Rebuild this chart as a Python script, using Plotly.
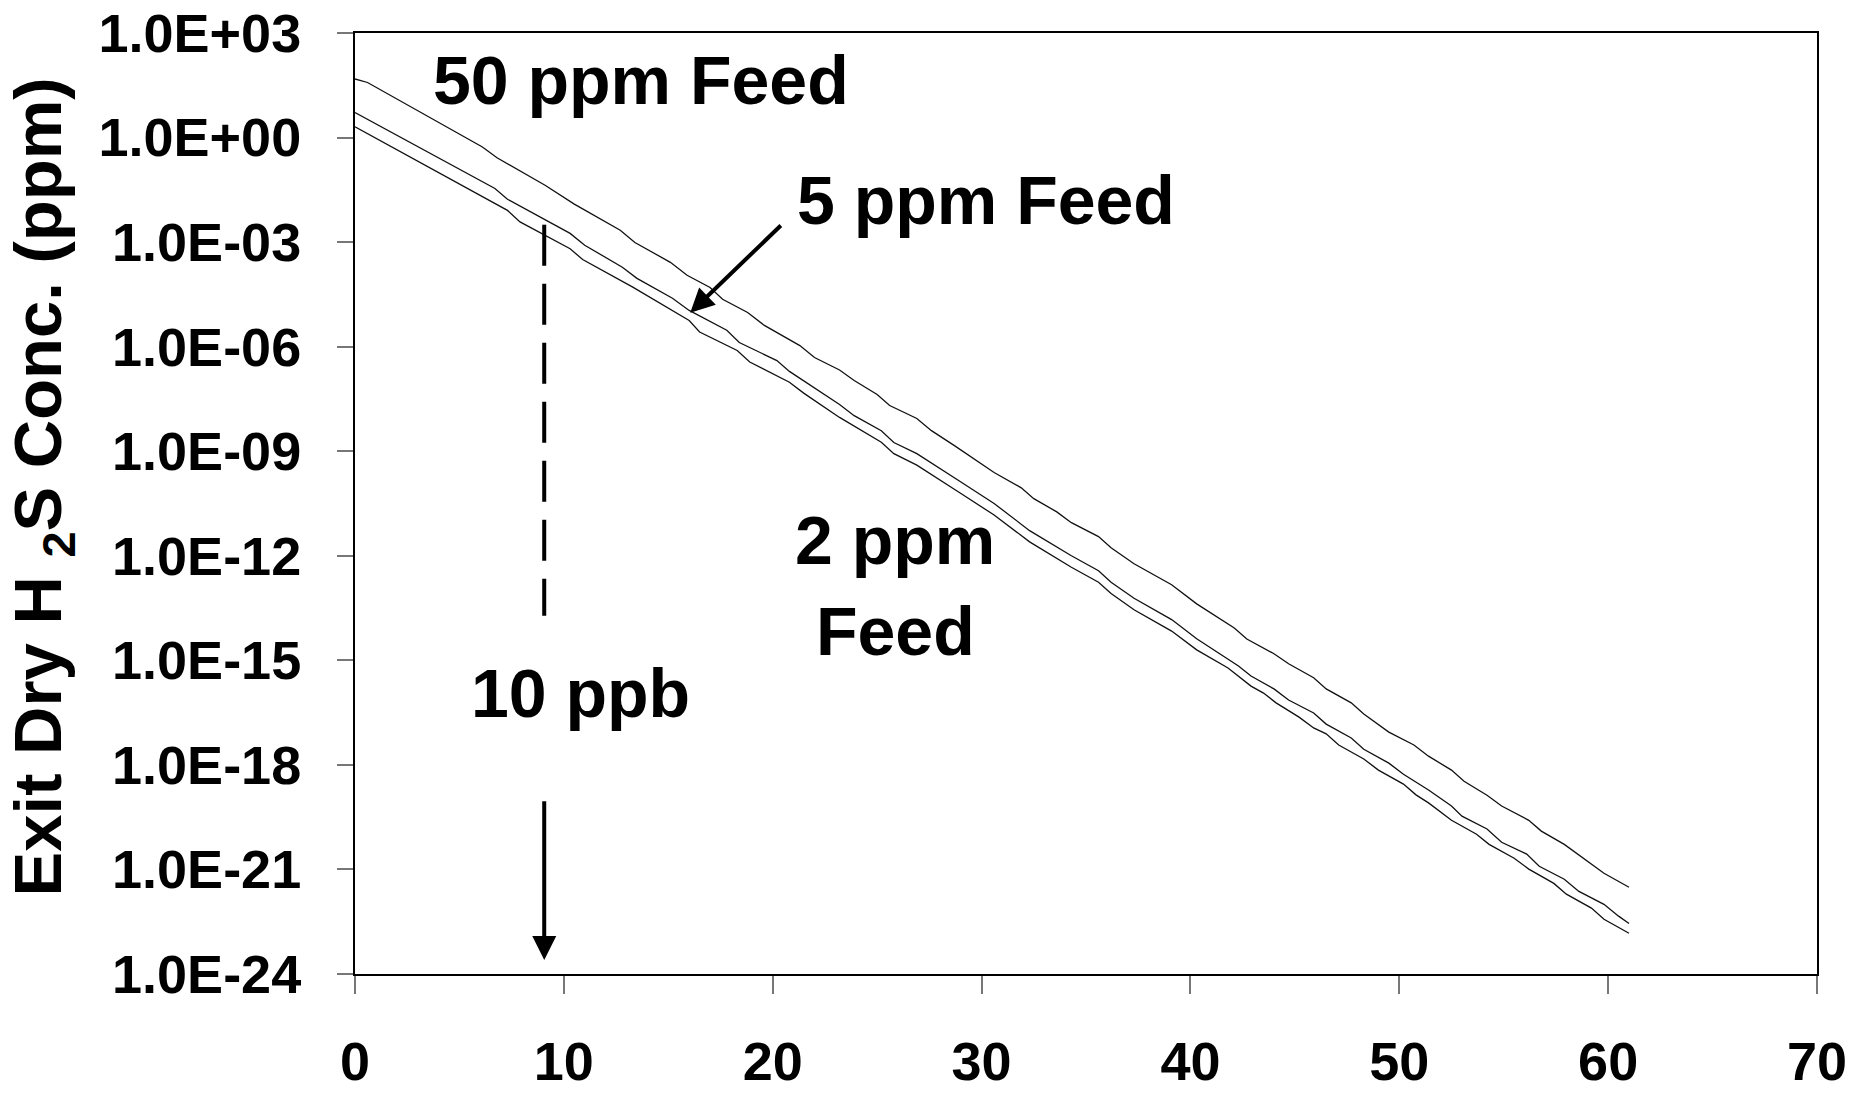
import plotly.graph_objects as go

# Exit H2S concentration (log10 ppm) versus bed position for three feed levels
x_50ppm = [0.0, 0.6, 6.1, 6.8, 9.1, 9.7, 10.5, 12.7, 13.4, 15.1, 15.9, 17.0, 17.6, 18.8,
           19.6, 21.3, 22.0, 23.2, 23.9, 25.0, 25.6, 26.9, 27.6, 28.7, 30.6, 31.9, 32.5,
           33.6, 34.3, 35.6, 36.2, 37.3, 39.1, 40.3, 42.1, 42.7, 44.0, 44.7, 45.9, 46.5,
           47.7, 48.3, 49.5, 50.7, 51.4, 52.5, 53.1, 54.2, 54.9, 56.2, 56.8, 57.9, 58.6,
           59.8, 61.0]
log_50ppm = [1.68, 1.58, -0.27, -0.58, -1.37, -1.61, -1.91, -2.66, -3.01, -3.58, -3.95,
             -4.30, -4.64, -5.02, -5.39, -5.97, -6.31, -6.67, -6.97, -7.37, -7.69, -8.06,
             -8.41, -8.84, -9.61, -10.05, -10.36, -10.74, -11.05, -11.45, -11.77, -12.23,
             -12.83, -13.38, -14.07, -14.39, -14.81, -15.10, -15.50, -15.82, -16.22,
             -16.54, -17.06, -17.43, -17.75, -18.15, -18.47, -18.87, -19.18, -19.59,
             -19.90, -20.28, -20.59, -21.11, -21.51]

x_5ppm = [0.0, 6.7, 7.3, 10.3, 11.0, 12.8, 13.5, 15.2, 16.0, 17.8, 18.4, 20.2, 20.8, 22.3,
          23.2, 23.9, 25.2, 25.8, 26.9, 28.9, 30.6, 32.3, 34.3, 35.6, 36.2, 37.3, 39.1,
          40.3, 42.3, 42.9, 44.0, 44.7, 45.9, 46.5, 47.7, 48.3, 49.5, 50.2, 51.4, 52.5,
          53.0, 54.2, 54.9, 56.1, 56.7, 57.9, 58.6, 59.8, 60.5, 61.0]
log_5ppm = [0.72, -1.46, -1.77, -2.75, -3.09, -3.72, -4.04, -4.61, -4.96, -5.53, -5.88,
            -6.40, -6.71, -7.30, -7.66, -7.98, -8.41, -8.75, -9.07, -9.84, -10.50, -11.28,
            -12.00, -12.43, -12.76, -13.22, -13.83, -14.38, -15.16, -15.45, -15.82, -16.14,
            -16.51, -16.83, -17.23, -17.55, -17.95, -18.27, -18.72, -19.18, -19.47, -19.84,
            -20.22, -20.56, -20.91, -21.28, -21.63, -22.00, -22.34, -22.55]

x_2ppm = [0.0, 7.3, 7.9, 10.3, 10.9, 13.3, 16.0, 16.5, 18.3, 18.9, 20.8, 21.5, 23.2, 25.2,
          25.8, 26.9, 28.9, 30.6, 32.3, 34.3, 35.6, 36.2, 37.3, 39.1, 40.3, 41.8, 42.9,
          43.5, 44.1, 45.2, 45.9, 46.5, 47.1, 48.3, 49.0, 50.2, 50.8, 51.4, 52.5, 53.7,
          54.3, 55.5, 56.2, 57.4, 58.0, 59.2, 59.8, 61.0]
log_2ppm = [0.31, -2.09, -2.42, -3.19, -3.50, -4.29, -5.25, -5.58, -6.11, -6.44, -7.02,
            -7.34, -8.03, -8.74, -9.07, -9.40, -10.17, -10.83, -11.60, -12.33, -12.76,
            -13.08, -13.55, -14.16, -14.70, -15.22, -15.74, -15.94, -16.22, -16.63, -16.94,
            -17.11, -17.43, -17.83, -18.15, -18.55, -18.86, -19.09, -19.59, -19.99, -20.28,
            -20.68, -20.99, -21.40, -21.71, -22.11, -22.43, -22.83]

# 10 ppb marker (dashed drop line, then arrow to the axis), in log10 ppm
ppb_x = 9.06
ppb_dash_log = [-2.5, -13.72]
ppb_arrow_log = [-19.0, -23.6]

# Pointer to the 5 ppm curve
feed5_tail = (20.46, -2.48)
feed5_tip = (16.05, -5.03)

y_tick_exp = [3, 0, -3, -6, -9, -12, -15, -18, -21, -24]
y_tick_text = ["1.0E+03", "1.0E+00", "1.0E-03", "1.0E-06", "1.0E-09", "1.0E-12",
               "1.0E-15", "1.0E-18", "1.0E-21", "1.0E-24"]
x_tick_vals = [0, 10, 20, 30, 40, 50, 60, 70]

FONT = "Liberation Sans, Arial, sans-serif"
LINE = "#111111"

fig = go.Figure()
for xs, logs in [(x_50ppm, log_50ppm), (x_5ppm, log_5ppm), (x_2ppm, log_2ppm)]:
    fig.add_trace(go.Scatter(
        x=xs, y=[10 ** v for v in logs], mode="lines",
        line=dict(color=LINE, width=1.3), showlegend=False, hoverinfo="skip"))

fig.add_trace(go.Scatter(
    x=[ppb_x, ppb_x], y=[10 ** v for v in ppb_dash_log], mode="lines",
    line=dict(color="black", width=4, dash="41px,18px"),
    showlegend=False, hoverinfo="skip"))

annotations = [
    dict(x=ppb_x, y=ppb_arrow_log[1], ax=ppb_x, ay=ppb_arrow_log[0],
         xref="x", yref="y", axref="x", ayref="y", text="", showarrow=True,
         arrowhead=2, arrowsize=1.2, arrowwidth=4, arrowcolor="black"),
    dict(x=feed5_tip[0], y=feed5_tip[1], ax=feed5_tail[0], ay=feed5_tail[1],
         xref="x", yref="y", axref="x", ayref="y", text="", showarrow=True,
         arrowhead=2, arrowsize=1.2, arrowwidth=4, arrowcolor="black"),
    dict(x=13.7, y=1.65, text="50 ppm Feed"),
    dict(x=30.19, y=-1.78, text="5 ppm Feed"),
    dict(x=25.87, y=-11.56, text="2 ppm"),
    dict(x=25.87, y=-14.17, text="Feed"),
    dict(x=10.78, y=-15.95, text="10 ppb"),
]
for a in annotations[2:]:
    a.update(xref="x", yref="y", showarrow=False, xanchor="center", yanchor="middle",
             font=dict(family=FONT, size=68, color="black", weight="bold"))

annotations.append(dict(
    x=-0.2135, y=0.518, xref="paper", yref="paper", showarrow=False,
    text="Exit Dry H <sub>2</sub>S Conc. (ppm)", textangle=-90,
    xanchor="center", yanchor="middle", borderpad=0,
    font=dict(family=FONT, size=67, color="black", weight="bold")))

fig.update_layout(
    width=1850, height=1094,
    margin=dict(l=355, r=33, t=33, b=120),
    paper_bgcolor="white", plot_bgcolor="white",
    annotations=annotations,
    xaxis=dict(
        range=[0, 70], tickvals=x_tick_vals, ticks="outside", ticklen=18,
        tickwidth=1.5, tickcolor="#777777", showgrid=False, zeroline=False,
        showline=True, linecolor="black", linewidth=2, mirror=True,
        automargin=False, ticklabelstandoff=21,
        tickfont=dict(family=FONT, size=54, color="black", weight="bold")),
    yaxis=dict(
        type="log", range=[-24, 3], tickvals=[10 ** e for e in y_tick_exp],
        ticktext=y_tick_text, ticks="outside", ticklen=16, tickwidth=1.5,
        tickcolor="#777777", showgrid=False, zeroline=False,
        showline=True, linecolor="black", linewidth=2, mirror=True,
        automargin=False, ticklabelstandoff=25,
        tickfont=dict(family=FONT, size=54, color="black", weight="bold")),
)

fig.write_html("out.html")
